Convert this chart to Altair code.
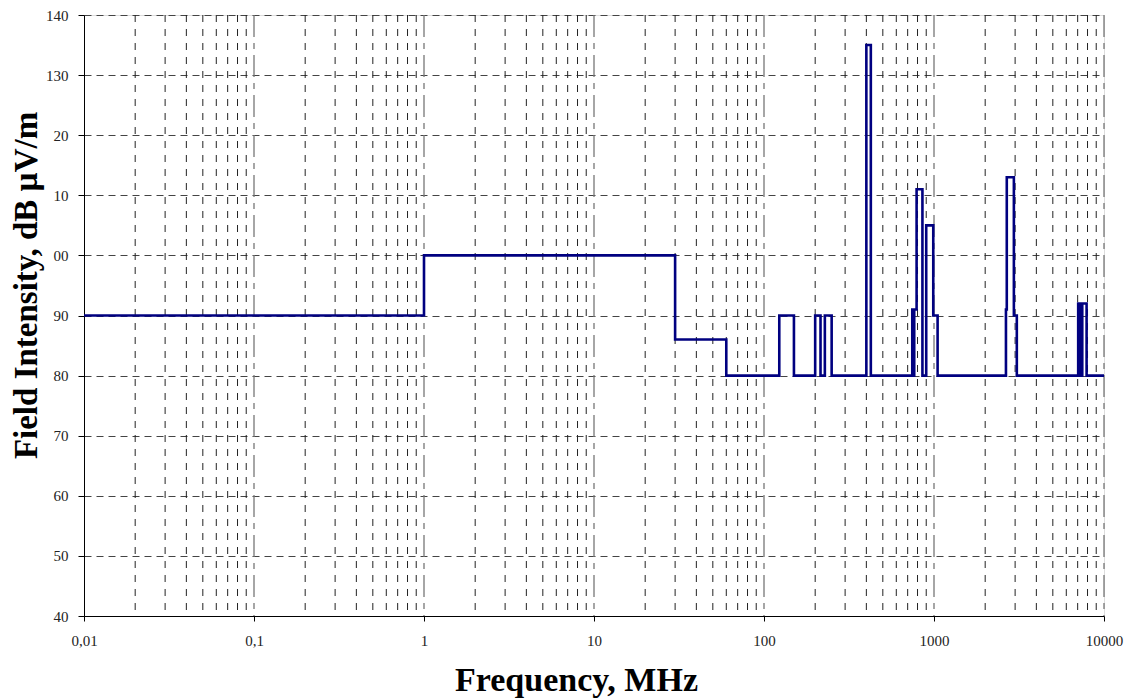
import altair as alt
import pandas as pd

# Step-function limit curve: level applies from freq[i] up to freq[i+1]
freq_mhz = [0.01, 1, 30, 60, 123, 150, 200, 215, 228, 250, 400, 425, 745, 760, 765,
            790, 855, 900, 990, 1050, 2650, 2680, 2950, 3070, 7050, 7250, 7450, 7900, 10000]
level_db = [90, 100, 86, 80, 90, 80, 90, 80, 90, 80, 135, 80, 91, 80, 91,
            111, 80, 105, 90, 80, 91, 113, 90, 80, 92, 80, 92, 80, 80]

decade_ticks = [0.01, 0.1, 1, 10, 100, 1000, 10000]
y_ticks = [40, 50, 60, 70, 80, 90, 100, 110, 120, 130, 140]
minor_mult = [2, 3, 4, 5, 6, 7, 8, 9]

minor_grid = [m * d for d in decade_ticks[:-1] for m in minor_mult]

curve = pd.DataFrame({"f": freq_mhz, "v": level_db})
minor_df = pd.DataFrame({"f": minor_grid})
major_df = pd.DataFrame({"f": decade_ticks[1:]})

FONT = "Liberation Serif"

xscale = alt.Scale(type="log", domain=[0.01, 10000], nice=False)
yscale = alt.Scale(domain=[40, 140], nice=False, zero=False)

x_axis = alt.Axis(
    values=decade_ticks, labelExpr="replace(datum.label, '.', ',')", format="~g",
    title="Frequency, MHz", grid=False, tickSize=5, labelPadding=12,
    titleFontSize=34, titleFont=FONT, titleFontWeight="bold",
    titleX=492, titleY=74, titleBaseline="alphabetic", titleAlign="center",
    labelFont=FONT, labelFontSize=15, labelColor="#222", domainColor="#000",
    tickColor="#000", labelFlush=False,
)
y_axis = alt.Axis(
    values=y_ticks,
    labelExpr="datum.value==100?'00':datum.value==110?'10':datum.value==120?'20':datum.label",
    title="Field Intensity, dB µV/m", grid=True, gridDash=[7, 5], gridColor="#444",
    gridWidth=1, tickSize=6, labelPadding=10,
    titleFontSize=33, titleFont=FONT, titleFontWeight="bold", titlePadding=2,
    titleY=270,
    labelFont=FONT, labelFontSize=15, labelColor="#222", domainColor="#000",
    tickColor="#000",
)

minor_rules = alt.Chart(minor_df).mark_rule(
    color="#222", strokeDash=[7, 7], strokeWidth=1
).encode(x=alt.X("f:Q", scale=xscale, axis=x_axis))

major_rules = alt.Chart(major_df).mark_rule(
    color="#777", strokeDash=[22, 6, 6, 6], strokeWidth=1.3
).encode(x=alt.X("f:Q", scale=xscale, axis=x_axis))

line = alt.Chart(curve).mark_line(
    interpolate="step-after", color="#000080", strokeWidth=2.6, clip=True
).encode(
    x=alt.X("f:Q", scale=xscale, axis=x_axis),
    y=alt.Y("v:Q", scale=yscale, axis=y_axis),
)

chart = alt.layer(minor_rules, major_rules, line).properties(
    width=1020, height=601,
    padding={"left": 84, "top": 15, "right": 27, "bottom": 82},
    autosize="none",
).configure_view(stroke=None).configure(background="white")

chart.save("out.html", embed_options={"renderer": "svg", "actions": False})
